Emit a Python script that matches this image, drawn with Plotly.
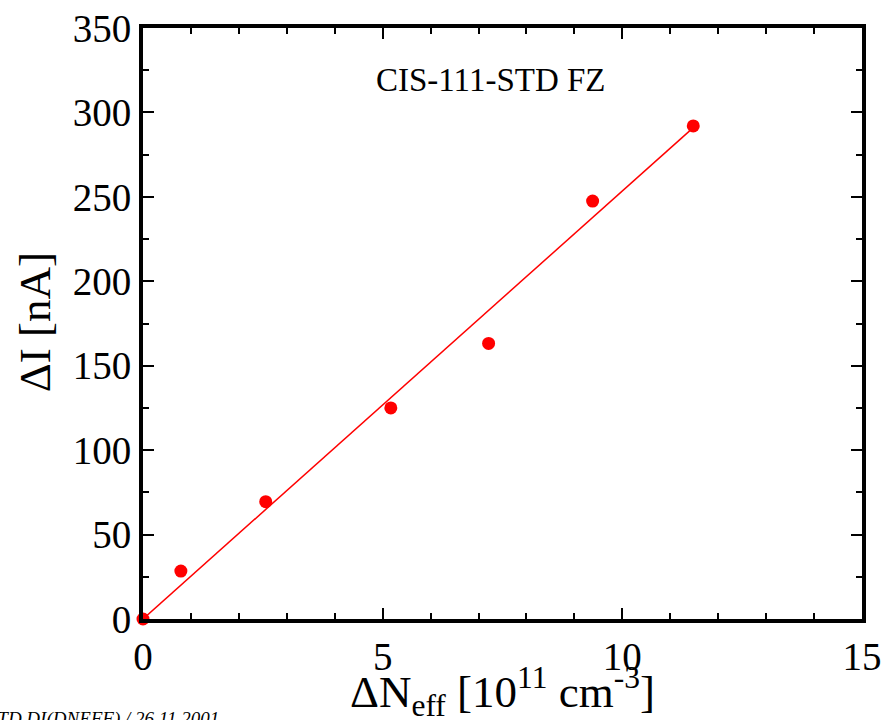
import plotly.graph_objects as go

# Data
delta_neff = [0.0, 0.79, 2.56, 5.17, 7.21, 9.38, 11.48]
delta_i = [0.0, 28.4, 69.5, 125.0, 163.2, 247.5, 292.0]
fit_x = [0.0, 11.48]
fit_y = [0.0, 291.0]

x_ticks = [0, 5, 10, 15]
y_ticks = [0, 50, 100, 150, 200, 250, 300, 350]

FONT = "Liberation Serif"

fig = go.Figure()
fig.add_trace(go.Scatter(x=fit_x, y=fit_y, mode="lines",
                         line=dict(color="#ff0000", width=1.5),
                         showlegend=False, cliponaxis=False))
fig.add_trace(go.Scatter(x=delta_neff, y=delta_i, mode="markers",
                         marker=dict(color="#ff0000", size=13),
                         showlegend=False, cliponaxis=False))

fig.update_layout(
    width=883, height=720,
    margin=dict(l=143, r=21, t=28, b=101, autoexpand=False),
    paper_bgcolor="white", plot_bgcolor="white",
    font=dict(family=FONT, color="black", size=38),
    xaxis=dict(range=[0, 15], tickvals=x_ticks, ticktext=[str(v) for v in x_ticks],
               ticks="inside", ticklen=11, tickwidth=1.5, tickcolor="black",
               minor=dict(dtick=1, ticks="inside", ticklen=6, tickwidth=1.5, tickcolor="black"),
               showline=True, linecolor="black", linewidth=4, mirror="ticks",
               showgrid=False, zeroline=False, automargin=False,
               ticklabeloverflow="allow",
               tickfont=dict(size=39, family=FONT)),
    yaxis=dict(range=[0, 350], tickvals=y_ticks, ticktext=[str(v) for v in y_ticks],
               ticks="inside", ticklen=11, tickwidth=1.5, tickcolor="black",
               minor=dict(dtick=25, ticks="inside", ticklen=6, tickwidth=1.5, tickcolor="black"),
               showline=True, linecolor="black", linewidth=4, mirror="ticks",
               showgrid=False, zeroline=False, automargin=False,
               ticklabeloverflow="allow",
               tickfont=dict(size=39, family=FONT)),
    annotations=[
        dict(x=0.5, y=-0.122, xref="paper", yref="paper",
             text="ΔN<sub>eff</sub> [10<sup>11</sup> cm<sup>-3</sup>]",
             showarrow=False, xanchor="center", yanchor="middle",
             font=dict(size=45, family=FONT)),
        dict(x=-0.150, y=0.5025, xref="paper", yref="paper", text="ΔI [nA]",
             textangle=-90, showarrow=False, xanchor="center", yanchor="middle",
             font=dict(size=45, family=FONT)),
        dict(x=7.25, y=319, xref="x", yref="y", text="CIS-111-STD FZ",
             showarrow=False, font=dict(size=33, family=FONT)),
        dict(x=-0.3115, y=-0.169, xref="paper", yref="paper",
             text="<i>CIS-111-STD DI(DNEFF) / 26.11.2001</i>",
             showarrow=False, xanchor="left", yanchor="middle",
             font=dict(size=19, family=FONT)),
    ],
)

fig.write_html("out.html", config={"displayModeBar": False},
               post_script="document.body.style.margin='0';document.body.style.overflow='hidden';")
